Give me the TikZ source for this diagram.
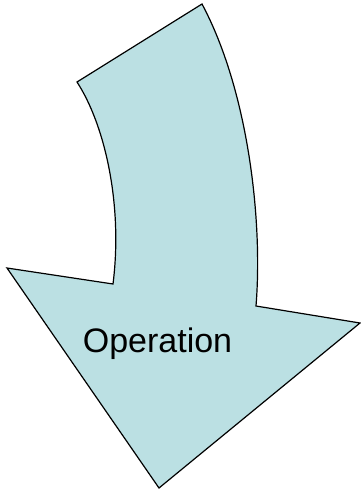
\documentclass[tikz,border=0pt]{standalone}
\usepackage{fontspec}
\setmainfont{Liberation Sans}
\definecolor{arrowfill}{RGB}{187,224,227}
\begin{document}
\begin{tikzpicture}[x=1pt,y=-1pt]
		\tikzset{every node/.style={font=\fontsize{34pt}{37pt}\selectfont}}
		\useasboundingbox (0,0) rectangle (361,491);
		\draw [fill=arrowfill, line width=1.2pt, line join=miter] (77,82) .. controls (105,125) and (123,205) .. (113,284)
			-- (7,268) -- (159,488) -- (360,323) -- (256,306)
			.. controls (263,220) and (248,90) .. (202,4) -- cycle;
		\node [anchor=base, inner sep=0] (op) at (157.5,352) {Operation};
	\end{tikzpicture}
\end{document}
